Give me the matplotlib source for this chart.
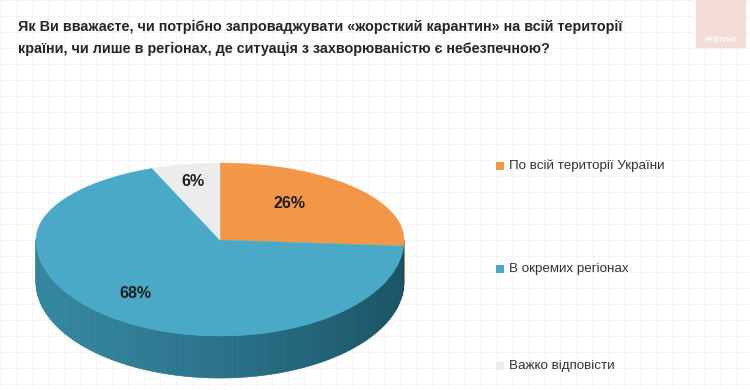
import numpy as np
import matplotlib.pyplot as plt
from matplotlib.patches import Polygon, Rectangle

# Дані опитування
categories = ['По всій території України', 'В окремих регіонах', 'Важко відповісти']
shares = [26, 68, 6]
labels = ['26%', '68%', '6%']
colors = ['#f29747', '#4aa9c7', '#ececec']
title = ('Як Ви вважаєте, чи потрібно запроваджувати «жорсткий карантин» на всій території\n'
         'країни, чи лише в регіонах, де ситуація з захворюваністю є небезпечною?')

FONT = ['Liberation Sans Narrow', 'Liberation Sans', 'DejaVu Sans']

# геометрія "3D" пирога в пікселях (верх і низ еліпса різні - перспектива)
cx, cy = 220, 240
rx = 184
ry_top, ry_bot = 77, 96
depth = 42


def pt(ang_deg):
    a = np.radians(ang_deg)
    s = np.sin(a)
    ry = np.where(s > 0, ry_top, ry_bot)
    return cx + rx * np.cos(a), cy - ry * s


fig = plt.figure(figsize=(7.5, 3.9), dpi=100)
ax = fig.add_axes([0, 0, 1, 1])
ax.set_xlim(0, 750)
ax.set_ylim(390, 0)
ax.axis('off')

# слабка сітка на фоні
for gx in np.arange(0, 750, 16):
    ax.axvline(gx, color='#f5f5f5', lw=0.6, zorder=0)
for gy in np.arange(0, 390, 16):
    ax.axhline(gy, color='#f5f5f5', lw=0.6, zorder=0)

# кути секторів (за годинниковою стрілкою від 90°)
bounds = [90]
for s in shares:
    bounds.append(bounds[-1] - s / sum(shares) * 360)

# бокова стінка (лише передня частина)
side_dark = np.array([0.09, 0.30, 0.37])
side_light = np.array([0.20, 0.52, 0.62])
for i, c in enumerate(colors):
    a0, a1 = bounds[i], bounds[i + 1]
    angs = np.append(np.arange(a0, a1, -1.5), a1)
    for k in range(len(angs) - 1):
        m = (angs[k] + angs[k + 1]) / 2 % 360
        if m < 180:
            continue
        if i == 0:
            col = '#b86a2a'
        else:
            t = (np.cos(np.radians(m - 200)) + 1) / 2
            col = side_dark + (side_light - side_dark) * t
        p1 = pt(angs[k]); p2 = pt(angs[k + 1])
        poly = [p1, p2, (p2[0], p2[1] + depth), (p1[0], p1[1] + depth)]
        ax.add_patch(Polygon(poly, closed=True, fc=col, ec=col, lw=0.5, zorder=2))

# верхня поверхня
for i, c in enumerate(colors):
    angs = np.linspace(bounds[i], bounds[i + 1], 160)
    xs, ys = pt(angs)
    poly = [(cx, cy)] + list(zip(xs, ys))
    ax.add_patch(Polygon(poly, closed=True, fc=c, ec=c, lw=0.3, zorder=3))

# підписи відсотків
lab_pos = [(290, 203), (135, 294), (193, 181)]
for i in range(len(labels)):
    x, y = lab_pos[i]
    ax.text(x, y, labels[i], ha='center', va='center', fontsize=11.5,
            fontweight='bold', color='#1e1e1e', family=FONT, zorder=5)

# заголовок
ax.text(18, 38, title, ha='left', va='center', fontsize=10.4, fontweight='bold',
        color='#262626', family=FONT, linespacing=1.65)

# легенда
leg_y = [166, 269, 366]
for i, cat in enumerate(categories):
    ax.add_patch(Rectangle((496, leg_y[i] - 4), 8, 8, fc=colors[i], ec='none', zorder=4))
    ax.text(509, leg_y[i], cat, ha='left', va='center', fontsize=9.6,
            color='#333333', family=FONT)

# логотип
ax.add_patch(Rectangle((696, 0), 50, 48, fc='#f4dcd7', ec='none', zorder=1))
ax.text(721, 41, 'РЕЙТИНГ', ha='center', va='center', fontsize=5,
        fontweight='bold', color='white', family=FONT, zorder=2)

fig.savefig('out.png', dpi=100)
